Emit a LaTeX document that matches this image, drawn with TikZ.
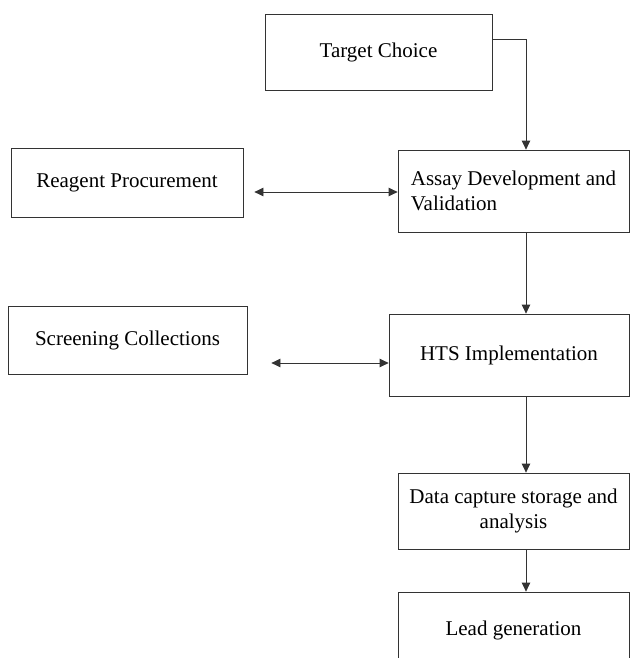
\documentclass[tikz,border=0pt]{standalone}
\usepackage{fontspec}
\setmainfont{Liberation Serif}
\usetikzlibrary{arrows.meta,calc}
\begin{document}
\begin{tikzpicture}[x=1pt,y=-1pt,
  box/.style={draw=black!80,line width=0.8pt,rectangle,inner sep=0pt,align=center,
    font=\fontsize{21}{25.5}\selectfont,text=black},
  conn/.style={draw=black!80,line width=0.8pt,-{Triangle[length=9pt,width=8.5pt]}},
  biconn/.style={draw=black!80,line width=0.8pt,{Triangle[length=9pt,width=8.5pt]}-{Triangle[length=9pt,width=8.5pt]}}]
\useasboundingbox (0,0) rectangle (630,658);
\begin{scope}
\clip (0,0) rectangle (630,658);
\node[box,minimum width=227pt,minimum height=76pt] (target) at (378.5,52) {Target Choice};
\node[box,minimum width=231pt,minimum height=82pt,align=left] (assay) at (513.5,191) {Assay Development and\\Validation};
\node[box,minimum width=232pt,minimum height=69pt] (reagent) at (127,182.5) {Reagent Procurement};
\node[box,minimum width=239pt,minimum height=68pt] (screen) at (127.5,340) {Screening Collections};
\node[box,minimum width=240pt,minimum height=82pt] (hts) at (509,355) {HTS Implementation};
\node[box,minimum width=231pt,minimum height=76pt] (data) at (513.5,511) {Data capture storage and\\analysis};
\node[box,minimum width=231pt,minimum height=76pt] (lead) at (513.5,630) {Lead generation};
\end{scope}
\coordinate (tA) at ([xshift=12.5pt]assay.north);
\draw[conn] ([yshift=13pt]target.east) -| (tA);
\coordinate (rA) at ([yshift=-1pt]assay.west);
\draw[biconn] ([xshift=11pt]reagent.east |- rA) -- (rA);
\coordinate (sH) at ([yshift=-8pt]hts.west);
\draw[biconn] ([xshift=24pt]screen.east |- sH) -- (sH);
\coordinate (aS) at ([xshift=12.5pt]assay.south);
\draw[conn] (aS) -- (aS |- hts.north);
\coordinate (dN) at ([xshift=12.5pt]data.north);
\draw[conn] (dN |- hts.south) -- (dN);
\coordinate (dS) at ([xshift=12.5pt]data.south);
\draw[conn] (dS) -- (dS |- lead.north);
\end{tikzpicture}
\end{document}
